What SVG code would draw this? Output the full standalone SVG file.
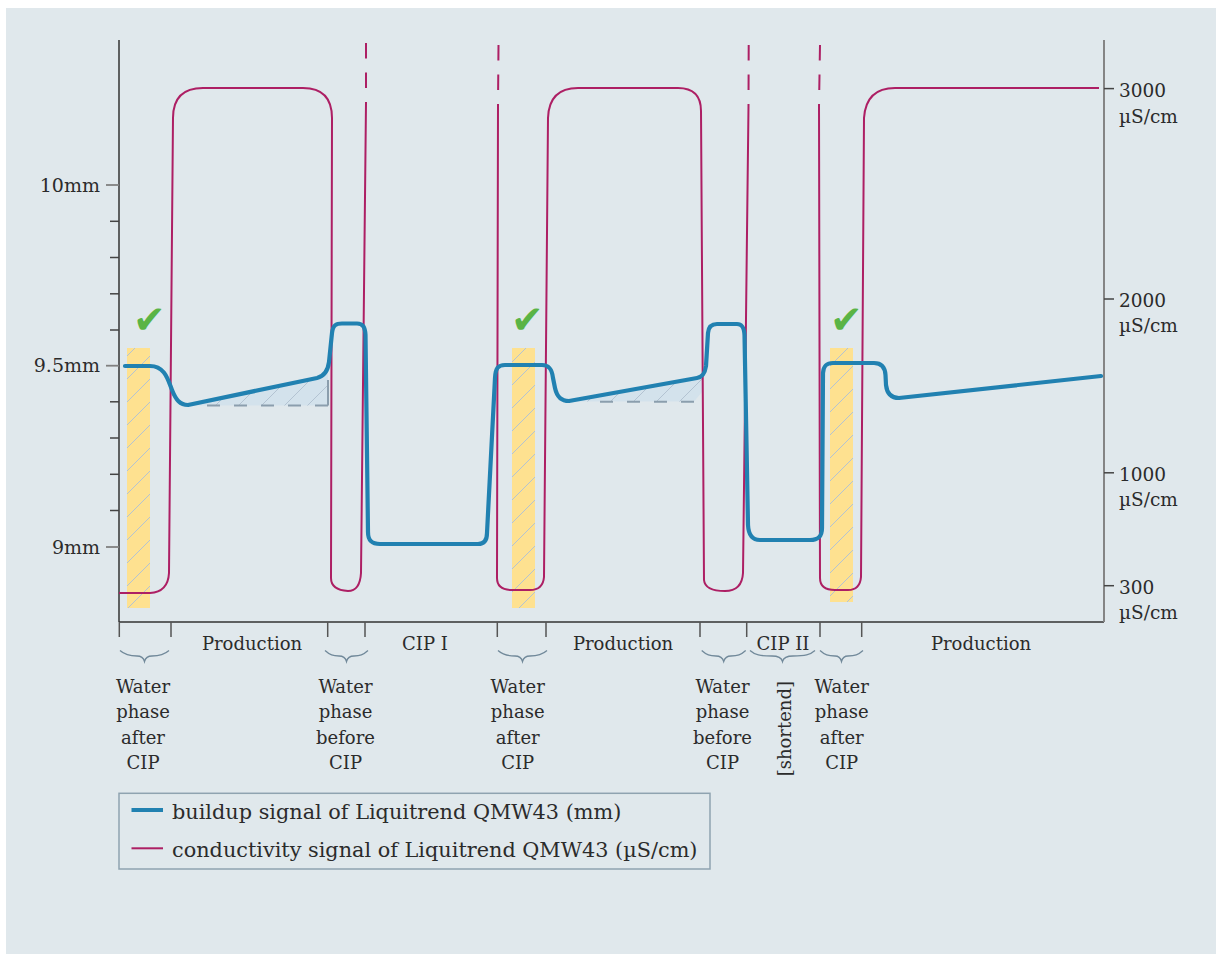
<svg xmlns="http://www.w3.org/2000/svg" width="1216" height="954" viewBox="0 0 1216 954">
<style>
text{font-family:"DejaVu Serif","Liberation Serif",serif;font-size:18px;fill:#2b2b2b}
.mid{text-anchor:middle}
.end{text-anchor:end;font-size:19px}
.rl{font-size:18.5px}
.leg{font-size:20.8px}
.axis{stroke:#333;stroke-width:1.5;fill:none}
.tk{stroke:#444;stroke-width:1.5}
.tkg{stroke:#808080;stroke-width:1.8}
.sep{stroke:#555;stroke-width:1.5}
.brace{fill:none;stroke:#71899a;stroke-width:1.3}
.cond{fill:none;stroke:#ad1f64;stroke-width:2}
.build{fill:none;stroke:#2181b1;stroke-width:4.2;stroke-linejoin:round;stroke-linecap:round}
.bar{fill:#fee190}
.hatchfill{fill:url(#hatch)}
.tri{fill:#d3e2ec}
.dash{fill:none;stroke:#8b9ead;stroke-width:2;stroke-dasharray:13 14}
.chk{font-family:"DejaVu Sans",sans-serif;font-size:39px;fill:#5ab445}
</style>
<defs>
<pattern id="hatch" patternUnits="userSpaceOnUse" width="23" height="23">
<line x1="-2" y1="25" x2="25" y2="-2" stroke="#b3c3d2" stroke-width="1"/>
</pattern>
</defs>
<rect x="6" y="8" width="1210" height="946" fill="#e0e8ec"/>

<g id="water-bars">
<rect class="bar" x="127" y="348" width="23" height="260"/>
<rect class="hatchfill" x="127" y="348" width="23" height="260"/>
<rect class="bar" x="512" y="348" width="23" height="260"/>
<rect class="hatchfill" x="512" y="348" width="23" height="260"/>
<rect class="bar" x="830" y="348" width="23" height="254"/>
<rect class="hatchfill" x="830" y="348" width="23" height="254"/>
</g>

<g id="buildup-areas">
<polygon class="tri" points="190,405.5 317,378.5 324,375 328,369 328,405.5"/>
<polygon class="hatchfill" points="190,405.5 317,378.5 324,375 328,369 328,405.5"/>
<line class="dash" x1="328" y1="405.5" x2="206" y2="405.5"/>
<line x1="328" y1="380" x2="328" y2="405.5" stroke="#8b9ead" stroke-width="2"/>
<polygon class="tri" points="570,401.5 697,378.5 702,373 702,392 694,401.5"/>
<polygon class="hatchfill" points="570,401.5 697,378.5 702,373 702,392 694,401.5"/>
<line class="dash" x1="694" y1="401.7" x2="593" y2="401.7"/>
</g>

<g id="checks">
<text class="chk" x="133" y="333">✔</text>
<text class="chk" x="511" y="333">✔</text>
<text class="chk" x="830" y="333">✔</text>
</g>

<g id="axes">
<line class="axis" x1="119" y1="40" x2="119" y2="622"/>
<line class="axis" x1="119" y1="622" x2="1104" y2="622"/>
<line x1="1104" y1="40" x2="1104" y2="622" stroke="#858585" stroke-width="2"/>
<line class="tkg" x1="106" y1="185" x2="119" y2="185"/>
<line class="tkg" x1="106" y1="365.7" x2="119" y2="365.7"/>
<line class="tkg" x1="106" y1="547" x2="119" y2="547"/>
<line class="tk" x1="110" y1="221.3" x2="119" y2="221.3"/>
<line class="tk" x1="110" y1="257.5" x2="119" y2="257.5"/>
<line class="tk" x1="110" y1="293.8" x2="119" y2="293.8"/>
<line class="tk" x1="110" y1="330" x2="119" y2="330"/>
<line class="tk" x1="110" y1="401.8" x2="119" y2="401.8"/>
<line class="tk" x1="110" y1="438" x2="119" y2="438"/>
<line class="tk" x1="110" y1="474.3" x2="119" y2="474.3"/>
<line class="tk" x1="110" y1="510.5" x2="119" y2="510.5"/>
<line class="tk" x1="1104" y1="88.6" x2="1114" y2="88.6"/>
<line class="tk" x1="1104" y1="299" x2="1114" y2="299"/>
<line class="tk" x1="1104" y1="472.8" x2="1114" y2="472.8"/>
<line class="tk" x1="1104" y1="585.7" x2="1114" y2="585.7"/>
<text class="end" x="100" y="192">10mm</text>
<text class="end" x="100" y="372">9.5mm</text>
<text class="end" x="100" y="554">9mm</text>
<text class="rl" x="1119" y="97">3000</text>
<text class="rl" x="1119" y="123">µS/cm</text>
<text class="rl" x="1119" y="307">2000</text>
<text class="rl" x="1119" y="332">µS/cm</text>
<text class="rl" x="1119" y="481">1000</text>
<text class="rl" x="1119" y="506">µS/cm</text>
<text class="rl" x="1119" y="594">300</text>
<text class="rl" x="1119" y="619">µS/cm</text>
</g>

<g id="connectors">
<path id="conductivity" class="cond" d="M119,593 L150,593 Q168,592 169,573 L173,118 Q173,88 203,88 L303,88 Q332,88 332,118 L331,578 Q331,590 348,591 Q360,591 361,573 L366,103 M498,106 L497,578 Q497,590 512,590 L530,590 Q543,590 544,577 L548,118 Q549,88 578,88 L678,88 Q701,88 701,111 L704,580 Q705,591 725,591 Q742,591 743,573 L748.5,106 M819,106 L820,578 Q820,590 835,590 L848,590 Q860,590 861,577 L864,118 Q866,88 895,88 L1099,88"/>
<path class="cond" stroke-dasharray="15.5 14" d="M366,43 L366,103 M498.5,45 L498,106 M748.7,45 L748.5,106 M820,45 L819,106"/>
<path id="buildup" class="build" d="M125,366 L150,366 C165,366 168,380 172,390 C176,400 180,405 188,405 L317,378 C325,376 328,370 329,362 L332,333 C333,325 336,323.5 342,323.5 L357,323.5 C363,323.5 365,327 365.5,335 L368,532 C368,541 372,544 380,544 L478,544 C484,544 487,540 487,533 L495,378 C495.5,368 498,365 505,365 L542,365 C549,365 552,369 553,378 L555,388 C557,397 561,401 569,401 L697,378 C703,377 705,373 706,366 L708,333 C708.5,327 711,324 717,324 L737,324 C742,324 744,327 744.5,335 L748,525 C748.5,535 752,540 760,540 L810,540 C818,540 822,537 822,528 L823,373 C823.5,366 826,363 833,363 L874,363 C881,363 885,367 885.5,375 L886,385 C887,394 891,398 899,398 L1101,376"/>
</g>

<g id="phases">
<line class="sep" x1="119.3" y1="622" x2="119.3" y2="637"/>
<line class="sep" x1="171" y1="622" x2="171" y2="637"/>
<line class="sep" x1="327.7" y1="622" x2="327.7" y2="637"/>
<line class="sep" x1="365" y1="622" x2="365" y2="637"/>
<line class="sep" x1="497.3" y1="622" x2="497.3" y2="637"/>
<line class="sep" x1="546" y1="622" x2="546" y2="637"/>
<line class="sep" x1="700" y1="622" x2="700" y2="637"/>
<line class="sep" x1="746.7" y1="622" x2="746.7" y2="637"/>
<line class="sep" x1="820" y1="622" x2="820" y2="637"/>
<line class="sep" x1="861.7" y1="622" x2="861.7" y2="637"/>
<path class="brace" d="M120,650.5 C125,655 130,656 137,656 Q143,656 144.5,661.5 Q146,656 152,656 C159,656 164,655 169,650.5"/>
<path class="brace" d="M325,650.5 C330,655 333,656 339,656 Q345,656 346.5,661.5 Q348,656 354,656 C360,656 363,655 368,650.5"/>
<path class="brace" d="M498,650.5 C503,655 508,656 515,656 Q521,656 522.5,661.5 Q524,656 530,656 C537,656 542,655 547,650.5"/>
<path class="brace" d="M701.7,650.5 C706.7,655 709.7,656 716,656 Q722,656 723.7,661.5 Q725.4,656 731,656 C737.7,656 740.7,655 745.7,650.5"/>
<path class="brace" d="M750,650.5 C755,655 760,656 772,656 Q781,656 782.5,661.5 Q784,656 793,656 C805,656 810,655 815,650.5"/>
<path class="brace" d="M820,650.5 C825,655 828,656 835,656 Q840,656 841.5,661.5 Q843,656 848,656 C855,656 858,655 863,650.5"/>
<text class="mid" x="252" y="650">Production</text>
<text class="mid" x="425" y="650">CIP I</text>
<text class="mid" x="623" y="650">Production</text>
<text class="mid" x="783" y="650">CIP II</text>
<text class="mid" x="981" y="650">Production</text>
<text class="mid" x="143" y="693">Water</text>
<text class="mid" x="143" y="718">phase</text>
<text class="mid" x="143" y="744">after</text>
<text class="mid" x="143" y="769">CIP</text>
<text class="mid" x="345.5" y="693">Water</text>
<text class="mid" x="345.5" y="718">phase</text>
<text class="mid" x="345.5" y="744">before</text>
<text class="mid" x="345.5" y="769">CIP</text>
<text class="mid" x="517.7" y="693">Water</text>
<text class="mid" x="517.7" y="718">phase</text>
<text class="mid" x="517.7" y="744">after</text>
<text class="mid" x="517.7" y="769">CIP</text>
<text class="mid" x="722.5" y="693">Water</text>
<text class="mid" x="722.5" y="718">phase</text>
<text class="mid" x="722.5" y="744">before</text>
<text class="mid" x="722.5" y="769">CIP</text>
<text class="mid" transform="translate(791,728.7) rotate(-90)" x="0" y="0">[shortend]</text>
<text class="mid" x="841.7" y="693">Water</text>
<text class="mid" x="841.7" y="718">phase</text>
<text class="mid" x="841.7" y="744">after</text>
<text class="mid" x="841.7" y="769">CIP</text>
</g>

<g id="legend">
<rect x="119" y="793.3" width="591" height="75.7" fill="none" stroke="#8fa3b0" stroke-width="1.5"/>
<line x1="131.5" y1="810" x2="163" y2="810" stroke="#2181b1" stroke-width="4"/>
<line x1="131.5" y1="848.3" x2="163" y2="848.3" stroke="#ad1f64" stroke-width="2"/>
<text class="leg" x="172" y="819">buildup signal of Liquitrend QMW43 (mm)</text>
<text class="leg" x="172" y="857">conductivity signal of Liquitrend QMW43 (µS/cm)</text>
</g>
</svg>
